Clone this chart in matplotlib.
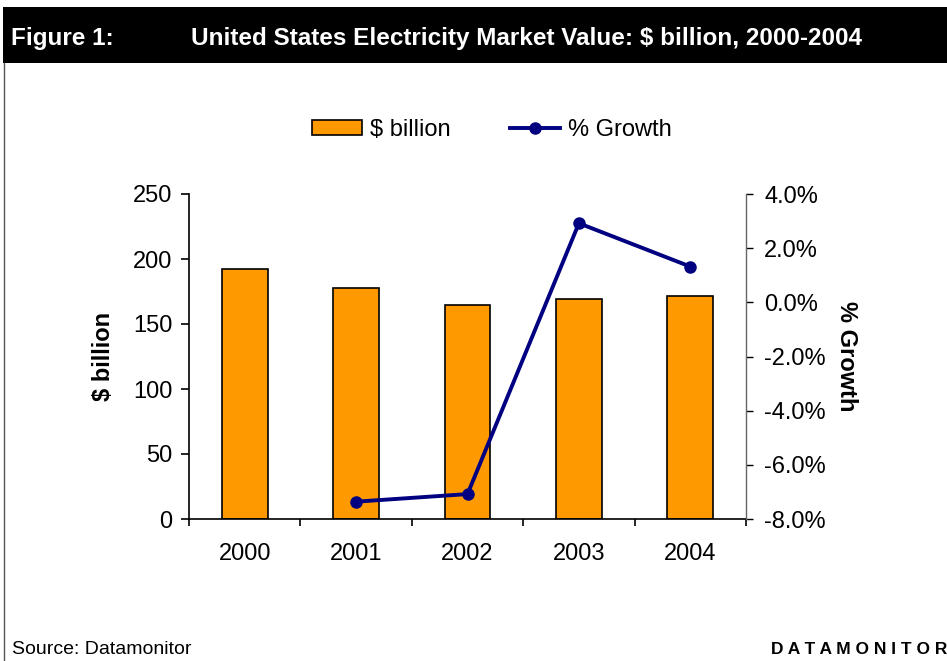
import matplotlib
matplotlib.use("Agg")
import matplotlib.pyplot as plt
from matplotlib.patches import Rectangle
from matplotlib.lines import Line2D
from matplotlib.ticker import FuncFormatter, MultipleLocator

plt.rcParams['font.family'] = ['Liberation Sans', 'DejaVu Sans']

years = ["2000", "2001", "2002", "2003", "2004"]
market_value = [192.1, 177.7, 164.6, 169.0, 171.8]
growth_years = ["2001", "2002", "2003", "2004"]
growth_pct = [-7.36, -7.08, 2.92, 1.32]

W, H = 947, 661
fig = plt.figure(figsize=(W / 100, H / 100), dpi=100)

def fx(px):
    return px / W

def fy(py):
    return 1 - py / H

# Header band
fig.patches.append(Rectangle((fx(3), fy(63)), fx(944), 56 / H, transform=fig.transFigure,
                             facecolor="black", edgecolor="none", zorder=0))
fig.add_artist(Line2D([fx(3.5), fx(3.5)], [fy(63), 0], transform=fig.transFigure,
                      color="#555555", lw=1))
fig.text(fx(11), fy(39), "Figure 1:", color="white", fontsize=17.5, fontweight="bold",
         va="center", ha="left")
fig.text(fx(191), fy(39), "United States Electricity Market Value: $ billion, 2000-2004",
         color="white", fontsize=17.5, fontweight="bold", va="center", ha="left")

# Plot area
x0, x1, y0, y1 = 189, 746, 194, 519
ax = fig.add_axes([fx(x0), fy(y1), (x1 - x0) / W, (y1 - y0) / H])
ax2 = ax.twinx()

pos = list(range(len(years)))
ax.bar(pos, market_value, width=0.41, color="#FF9900", edgecolor="black", linewidth=1.2,
       zorder=2)
ax.set_xlim(-0.5, len(years) - 0.5)
ax.set_ylim(0, 250)
ax.yaxis.set_major_locator(MultipleLocator(50))
ax.set_xticks([p + 0.5 for p in [-1] + pos])
ax.set_xticklabels([])
ax.set_xticks(pos, minor=True)
ax.set_xticklabels(years, minor=True)
ax.tick_params(axis="x", which="minor", length=0, pad=17, labelsize=17)
ax.tick_params(axis="x", which="major", length=5, width=1.2, direction="out")
ax.tick_params(axis="y", length=6, width=1.2, direction="out", labelsize=17, pad=6)
for s in ["top", "right"]:
    ax.spines[s].set_visible(False)
ax.spines["left"].set_linewidth(1.2)
ax.spines["bottom"].set_linewidth(1.2)
ax.set_ylabel("$ billion", fontsize=17, fontweight="bold", labelpad=13)

gpos = [years.index(y) for y in growth_years]
ax2.plot(gpos, growth_pct, color="#000080", lw=2.8, marker="o", markersize=8, zorder=3)
ax2.set_ylim(-8, 4)
ax2.yaxis.set_major_locator(MultipleLocator(2))
ax2.yaxis.set_major_formatter(FuncFormatter(lambda v, _: f"{v:.1f}%"))
ax2.tick_params(axis="y", length=5, width=1, direction="out", labelsize=17, pad=8,
                colors="black")
for s in ["top", "left", "bottom"]:
    ax2.spines[s].set_visible(False)
ax2.spines["right"].set_color("#666666")
ax2.spines["right"].set_linewidth(1)
ax2.set_ylabel("% Growth", fontsize=17, fontweight="bold", rotation=-90, labelpad=23)

# Legend
handles = [Rectangle((0, 0), 1, 1, facecolor="#FF9900", edgecolor="black", linewidth=1.2),
           Line2D([], [], color="#000080", lw=2.8, marker="o", markersize=8)]
fig.legend(handles, ["$ billion", "% Growth"], loc="center", bbox_to_anchor=(fx(492), fy(130)),
           ncol=2, frameon=False, fontsize=17, handlelength=2.1, handleheight=0.6,
           handletextpad=0.35, columnspacing=2.5)

# Footer
fig.text(fx(12), fy(649), "Source: Datamonitor", fontsize=14, va="center", ha="left")
fig.text(fx(771), fy(649), "D A T A M O N I T O R", fontsize=12.5, fontweight="bold",
         va="center", ha="left")

fig.savefig("out.png", dpi=100)
